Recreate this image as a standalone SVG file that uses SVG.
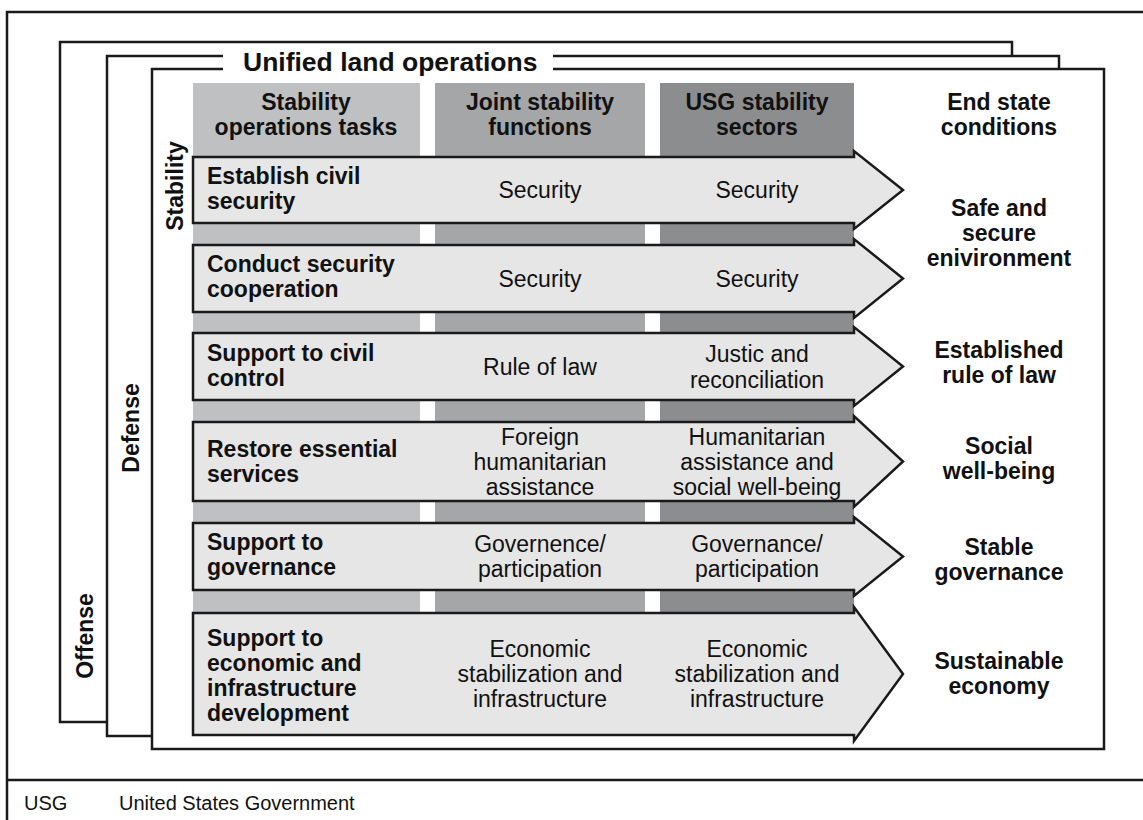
<svg xmlns="http://www.w3.org/2000/svg" width="1143" height="820" viewBox="0 0 1143 820">
<style>
.fr{fill:#fff;stroke:#1a1a1a;stroke-width:2.5}
.ln{fill:none;stroke:#1a1a1a;stroke-width:2.5}
.ar{fill:#e6e6e6;stroke:#1a1a1a;stroke-width:2.5;stroke-linejoin:miter}
.b{font-family:"Liberation Sans",Arial,sans-serif;font-weight:bold;font-size:23px;fill:#111}
.r{font-family:"Liberation Sans",Arial,sans-serif;font-size:23px;fill:#111}
.c{text-anchor:middle}
.f{font-family:"Liberation Sans",Arial,sans-serif;font-size:20px;fill:#111}
</style>
<rect width="1143" height="820" fill="#fff"/>
<g id="outer-frame">
<path class="ln" d="M7,820 V12 H1143"/>
<path class="ln" d="M7,780 H1143"/>
</g>
<g id="offense">
<rect class="fr" x="60" y="42" width="952" height="680"/>
<text class="b c" transform="translate(93,636) rotate(-90)">Offense</text>
</g>
<g id="defense">
<rect class="fr" x="107" y="56" width="952" height="680"/>
<text class="b c" transform="translate(139,428) rotate(-90)">Defense</text>
</g>
<g id="stability-frame">
<rect class="fr" x="152" y="69" width="952" height="680"/>
<text class="b c" transform="translate(183,186) rotate(-90)">Stability</text>
</g>
<g id="title">
<rect x="223" y="46" width="330" height="30" fill="#fff"/>
<text class="b" x="243" y="71" style="font-size:26.5px">Unified land operations</text>
</g>
<g id="columns">
<rect x="193" y="83" width="227" height="652" fill="#bfc0c2"/>
<rect x="435" y="83" width="210" height="652" fill="#a5a6a8"/>
<rect x="660" y="83" width="194" height="652" fill="#8c8d8f"/>
</g>
<g id="headers">
<text class="b c" x="306" y="110">Stability</text>
<text class="b c" x="306" y="135">operations tasks</text>
<text class="b c" x="540" y="110">Joint stability</text>
<text class="b c" x="540" y="135">functions</text>
<text class="b c" x="757" y="110">USG stability</text>
<text class="b c" x="757" y="135">sectors</text>
<text class="b c" x="999" y="110">End state</text>
<text class="b c" x="999" y="135">conditions</text>
</g>
<g id="row1">
<polygon class="ar" points="193,157 854,157 854,151 903,190 854,229 854,223 193,223"/>
<text class="b" x="207" y="184">Establish civil</text>
<text class="b" x="207" y="209">security</text>
<text class="r c" x="540" y="198">Security</text>
<text class="r c" x="757" y="198">Security</text>
</g>
<g id="row2">
<polygon class="ar" points="193,245 854,245 854,239 903,278.5 854,318 854,312 193,312"/>
<text class="b" x="207" y="272">Conduct security</text>
<text class="b" x="207" y="297">cooperation</text>
<text class="r c" x="540" y="287">Security</text>
<text class="r c" x="757" y="287">Security</text>
</g>
<g id="row3">
<polygon class="ar" points="193,333 854,333 854,327 903,366.5 854,406 854,400 193,400"/>
<text class="b" x="207" y="361">Support to civil</text>
<text class="b" x="207" y="386">control</text>
<text class="r c" x="540" y="375">Rule of law</text>
<text class="r c" x="757" y="362">Justic and</text>
<text class="r c" x="757" y="388">reconciliation</text>
</g>
<g id="row4">
<polygon class="ar" points="193,422 854,422 854,416 903,461.5 854,507 854,501 193,501"/>
<text class="b" x="207" y="457">Restore essential</text>
<text class="b" x="207" y="482">services</text>
<text class="r c" x="540" y="445">Foreign</text>
<text class="r c" x="540" y="470">humanitarian</text>
<text class="r c" x="540" y="495">assistance</text>
<text class="r c" x="757" y="445">Humanitarian</text>
<text class="r c" x="757" y="470">assistance and</text>
<text class="r c" x="757" y="495">social well-being</text>
</g>
<g id="row5">
<polygon class="ar" points="193,523 854,523 854,517 903,556.5 854,596 854,590 193,590"/>
<text class="b" x="207" y="550">Support to</text>
<text class="b" x="207" y="575">governance</text>
<text class="r c" x="540" y="552">Governence/</text>
<text class="r c" x="540" y="577">participation</text>
<text class="r c" x="757" y="552">Governance/</text>
<text class="r c" x="757" y="577">participation</text>
</g>
<g id="row6">
<polygon class="ar" points="193,613 854,613 854,607 903,674 854,741 854,735 193,735"/>
<text class="b" x="207" y="646">Support to</text>
<text class="b" x="207" y="671">economic and</text>
<text class="b" x="207" y="696">infrastructure</text>
<text class="b" x="207" y="721">development</text>
<text class="r c" x="540" y="657">Economic</text>
<text class="r c" x="540" y="682">stabilization and</text>
<text class="r c" x="540" y="707">infrastructure</text>
<text class="r c" x="757" y="657">Economic</text>
<text class="r c" x="757" y="682">stabilization and</text>
<text class="r c" x="757" y="707">infrastructure</text>
</g>
<g id="end-states">
<text class="b c" x="999" y="216">Safe and</text>
<text class="b c" x="999" y="241">secure</text>
<text class="b c" x="999" y="266">enivironment</text>
<text class="b c" x="999" y="358">Established</text>
<text class="b c" x="999" y="383">rule of law</text>
<text class="b c" x="999" y="454">Social</text>
<text class="b c" x="999" y="479">well-being</text>
<text class="b c" x="999" y="555">Stable</text>
<text class="b c" x="999" y="580">governance</text>
<text class="b c" x="999" y="669">Sustainable</text>
<text class="b c" x="999" y="694">economy</text>
</g>
<g id="footer">
<text class="f" x="24" y="810">USG</text>
<text class="f" x="119" y="810">United States Government</text>
</g>
</svg>
